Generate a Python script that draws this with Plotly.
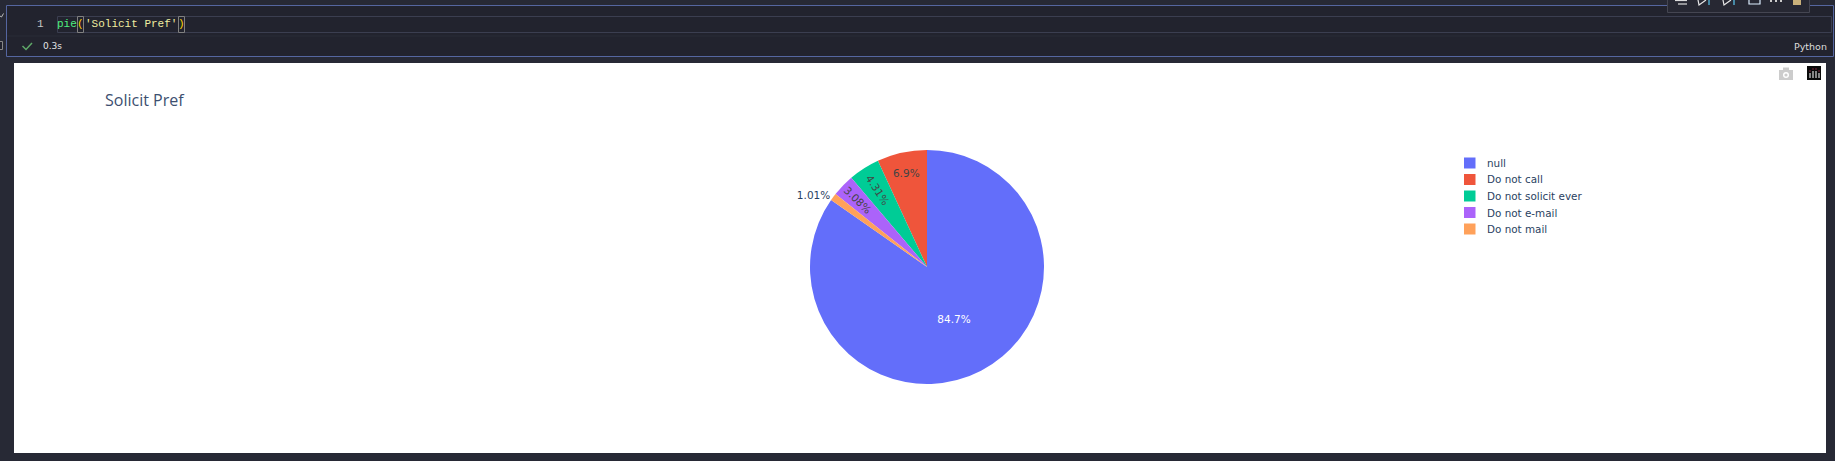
import plotly.graph_objects as go

labels = ["null", "Do not call", "Do not solicit ever", "Do not e-mail", "Do not mail"]
values = [84.7, 6.9, 4.31, 3.08, 1.01]
colors = ["#636EFA", "#EF553B", "#00CC96", "#AB63FA", "#FFA15A"]
legend_rows = [163, 179.5, 196, 212.5, 229]
chart_title = "Solicit Pref"

W, H = 1835, 461
DARK = "#272935"
CELL = "#22232E"
BORDER = "#5566A0"
LINE = "#3B3E50"

def px(x): return x / W
def py(y): return 1 - y / H

def rect(x0, y0, x1, y1, fill, line=None, width=1, layer="below"):
    return dict(type="rect", xref="paper", yref="paper", layer=layer,
                x0=px(x0), x1=px(x1), y0=py(y0), y1=py(y1), fillcolor=fill,
                line=dict(color=line or fill, width=width if line else 0))

def path(points, color, width=1.5, fill=None):
    d = "M " + " L ".join(f"{px(x):.5f},{py(y):.5f}" for x, y in points)
    if fill:
        d += " Z"
    return dict(type="path", xref="paper", yref="paper", layer="below", path=d,
                line=dict(color=color, width=width), fillcolor=fill or "rgba(0,0,0,0)")

def circle(cx, cy, r, fill):
    return dict(type="circle", xref="paper", yref="paper", layer="below",
                x0=px(cx - r), x1=px(cx + r), y0=py(cy + r), y1=py(cy - r),
                fillcolor=fill, line=dict(width=0))

shapes = [
    rect(6.5, 5.5, 1833.5, 56.5, CELL, BORDER),
    rect(57.5, 16.5, 1831.5, 32.5, CELL, LINE),
    path([(7, 36), (1833, 36)], "#2A2C38", 1),
    rect(77.5, 16.5, 83.5, 32.5, CELL, "#808080"),
    rect(178.5, 16.5, 184.5, 32.5, CELL, "#808080"),
    # side glyphs
    path([(0, 16), (1.5, 17), (3.5, 13.5)], "#BBBBBB", 1),
    rect(-2, 41.5, 2.5, 49.5, CELL, "#888888"),
    # run check mark
    path([(22.5, 46), (26, 49.5), (32, 43)], "#5FA868", 1.5),
    # cell toolbar
    rect(1667.5, -2, 1809.5, 12.5, "#272833", "#454652"),
    path([(1675, 0.5), (1687, 0.5)], "#DDDDDD", 1.2),
    path([(1678, 4), (1687, 4)], "#DDDDDD", 1.2),
    path([(1698, 0), (1699, 5), (1706, 0)], "#E8E8E8", 1.2),
    path([(1709, 0), (1709, 5)], "#5BC8F0", 1.2),
    path([(1723, 0), (1724, 5), (1731, 0)], "#E8E8E8", 1.2),
    path([(1734, 0), (1734, 5)], "#5BC8F0", 1.2),
    path([(1749, 0), (1749, 4), (1760, 4), (1760, 0)], "#DDEEFF", 1.2),
    rect(1770, 0, 1772, 2, "#CCCCCC"), rect(1775, 0, 1777, 2, "#CCCCCC"), rect(1780, 0, 1782, 2, "#CCCCCC"),
    rect(1793, 0, 1801, 5, "#C9B07A"),
    # plot area
    rect(14, 63, 1826, 453, "#FFFFFF"),
    # modebar camera
    rect(1779, 70, 1793, 80, "#CCCCCC"),
    rect(1783, 67.5, 1789, 70.5, "#CCCCCC"),
    circle(1786, 75, 3, "#FFFFFF"),
    circle(1786, 75, 1.6, "#CCCCCC"),
    # modebar logo
    rect(1807, 66, 1821, 80, "#0A0A0A"),
    rect(1809.5, 73, 1810.5, 78, "#FFFFFF"),
    rect(1812.5, 71, 1813.5, 78, "#FFFFFF"),
    rect(1815.5, 71, 1816.5, 78, "#FFFFFF"),
    rect(1818.5, 73, 1819.5, 78, "#FFFFFF"),
    rect(1809.5, 70.5, 1810.5, 71.5, "#E0396A"),
    rect(1812.5, 68.5, 1813.5, 69.5, "#E0396A"),
    rect(1815.5, 68.5, 1816.5, 69.5, "#E0396A"),
    rect(1818.5, 70.5, 1819.5, 71.5, "#E0396A"),
]

def note(x, y, text, color, size, family="Liberation Mono", anchor="left"):
    return dict(xref="paper", yref="paper", x=px(x), y=py(y), text=text, showarrow=False,
                xanchor=anchor, yanchor="middle", xshift=0, borderpad=0, borderwidth=0,
                font=dict(color=color, size=size, family=family))

UI = "DejaVu Sans"
annotations = [
    note(40, 24, "1", "#C5C8C6", 11, anchor="center"),
    note(67, 24, "pie", "#4EF07F", 11, anchor="center"),
    note(80.5, 24, "(", "#FFD700", 11, anchor="center"),
    note(130.5, 24, "'Solicit Pref'", "#F0EDA0", 11, anchor="center"),
    note(181.5, 24, ")", "#FFD700", 11, anchor="center"),
    note(52, 46, "0.3s", "#E4E4E4", 9, UI, anchor="center"),
    note(1810, 46, "Python", "#DDDDDD", 9.5, UI, anchor="center"),
]

# Legend drawn to the tighter row spacing of the reference
for name, colour, row in zip(labels, colors, legend_rows):
    shapes.append(rect(1464, row - 5.5, 1475.5, row + 5.5, colour))
    annotations.append(note(1487, row, name, "#2A3F5F", 10.4, UI))

fig = go.Figure(go.Pie(
    labels=labels, values=values, sort=False, direction="counterclockwise",
    rotation=0,
    marker=dict(colors=colors, line=dict(color="#FFFFFF", width=0)),
    textinfo="percent", textposition="auto",
    domain=dict(x=[px(810), px(1044)], y=[py(384), py(150)]),
    showlegend=False,
))
fig.update_layout(
    width=W, height=H, autosize=False,
    margin=dict(l=0, r=0, t=0, b=0),
    paper_bgcolor=DARK,
    font=dict(family="DejaVu Sans, verdana, arial, sans-serif", size=10.5, color="#2A3F5F"),
    title=dict(text=chart_title, x=px(105), y=py(100), xanchor="left", yanchor="middle",
               font=dict(size=16, color="#3D4F70", family="Open Sans")),
    shapes=shapes, annotations=annotations,
)
fig.write_html("out.html", config=dict(displayModeBar=False),
               post_script="document.body.style.margin='0';document.body.style.background='%s';" % DARK)
